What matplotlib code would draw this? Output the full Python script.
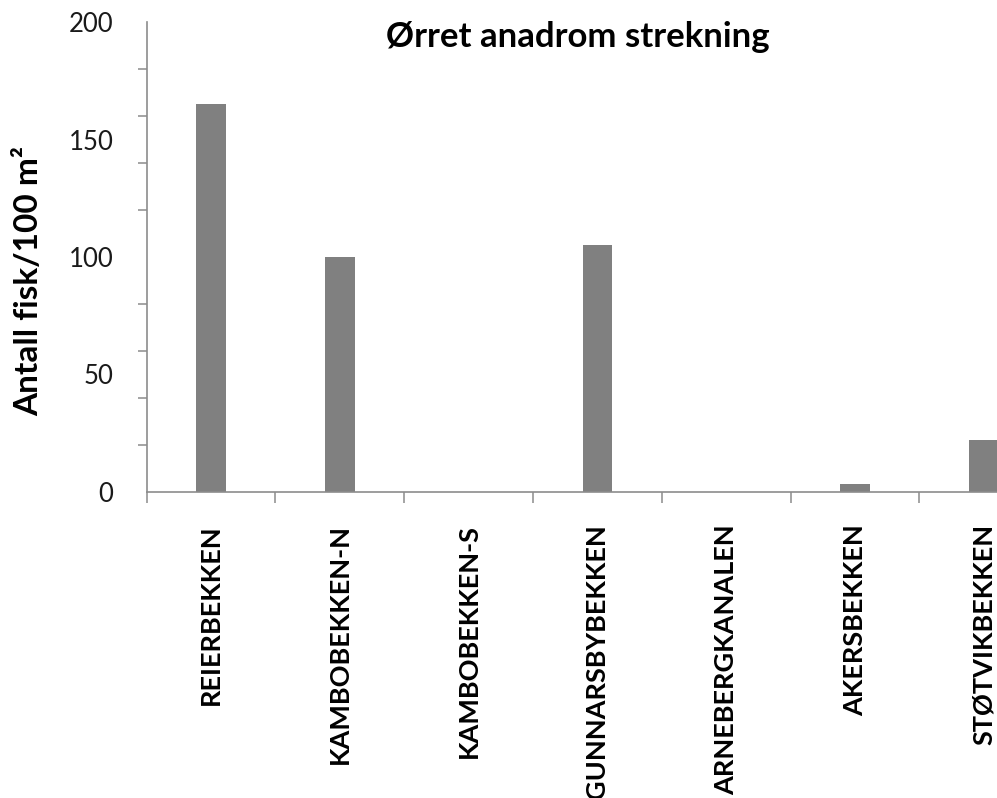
import matplotlib
matplotlib.use("Agg")
import matplotlib.pyplot as plt
from matplotlib.ticker import FixedLocator

# Tetthet av ørret per bekk
streams = [
    "REIERBEKKEN",
    "KAMBOBEKKEN-N",
    "KAMBOBEKKEN-S",
    "GUNNARSBYBEKKEN",
    "ARNEBERGKANALEN",
    "AKERSBEKKEN",
    "STØTVIKBEKKEN",
]
density = [165, 100, 0, 105, 0, 3.3, 22]

y_labels = [0, 50, 100, 150, 200]
y_minor = list(range(0, 201, 20))

plt.rcParams["font.family"] = ["Lato", "DejaVu Sans"]

fig = plt.figure(figsize=(9.97, 7.98), dpi=100)
fig.patch.set_facecolor("white")

# axis runs past the right edge of the figure
ax = fig.add_axes([0.1471, 0.3835, 0.9043, 0.5889])

x = list(range(len(streams)))
ax.bar(x, density, width=0.23, color="#808080", edgecolor="none", zorder=2)

ax.set_xlim(-0.5, len(streams) - 0.5)
ax.set_ylim(0, 200)

for side in ["top", "right"]:
    ax.spines[side].set_visible(False)
for side in ["left", "bottom"]:
    ax.spines[side].set_color("#8c8c8c")
    ax.spines[side].set_linewidth(1.2)
    ax.spines[side].set_zorder(3)

# y: labels every 50, tick marks every 20
ax.set_yticks(y_labels)
ax.set_yticklabels([str(v) for v in y_labels])
ax.yaxis.set_minor_locator(FixedLocator(y_minor))
ax.tick_params(axis="y", which="major", length=0, pad=24, labelsize=18.5,
               labelcolor="#1a1a1a")
ax.tick_params(axis="y", which="minor", length=6.5, width=1.1, color="#8c8c8c")

# x: labels at category centres, marks at the borders
ax.set_xticks(x)
ax.set_xticklabels(streams, rotation=90, fontweight="bold", va="top")
ax.xaxis.set_minor_locator(FixedLocator([i - 0.5 for i in range(len(streams) + 1)]))
ax.tick_params(axis="x", which="major", length=0, pad=23, labelsize=19.5,
               labelcolor="#000000")
ax.tick_params(axis="x", which="minor", length=8, width=1.1, color="#8c8c8c")

fig.text(578 / 997, 1 - 37 / 798, "Ørret anadrom strekning",
         ha="center", va="center", fontsize=25, fontweight="bold")
fig.text(28.5 / 997, 1 - 281 / 798, "Antall fisk/100 m²", rotation=90,
         ha="center", va="center", fontsize=24, fontweight="bold")

fig.savefig("out.png", dpi=100)
